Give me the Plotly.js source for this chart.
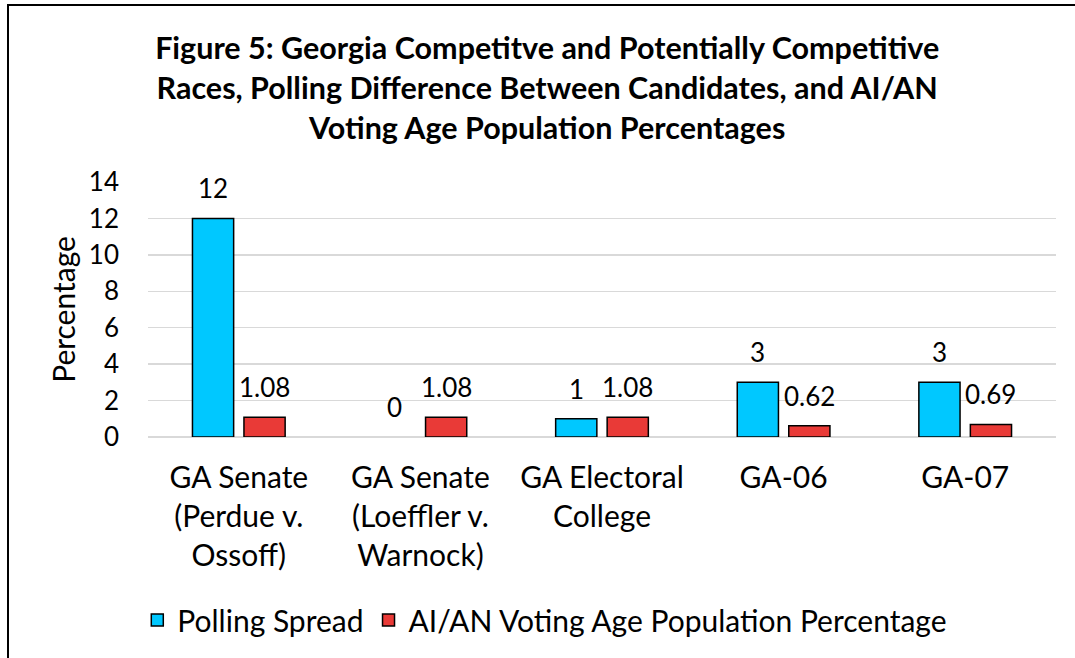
<!DOCTYPE html>
<html>
<head>
<meta charset="utf-8">
<script src="https://cdn.plot.ly/plotly-3.0.1.min.js"></script>
<style>
  html, body { margin: 0; padding: 0; background: #ffffff; overflow: hidden; }
  #frame { position: absolute; left: 7px; top: 4px; width: 1200px; height: 800px;
           border-left: 2px solid #000; border-top: 2px solid #000; box-sizing: border-box; }
  #chart { position: absolute; left: 0; top: 0; width: 1075px; height: 658px; }
</style>
</head>
<body>
<div id="frame"></div>
<div id="chart"></div>
<script>
// ---- data ----
const categories = [
  "GA Senate<br>(Perdue v.<br>Ossoff)",
  "GA Senate<br>(Loeffler v.<br>Warnock)",
  "GA Electoral<br>College",
  "GA-06",
  "GA-07"
];
const pollingSpread = [12, 0, 1, 3, 3];
const aianVAP = [1.08, 1.08, 1.08, 0.62, 0.69];
const seriesNames = ["Polling Spread", "AI/AN Voting Age Population Percentage"];
const yTicks = [0, 2, 4, 6, 8, 10, 12, 14];
const titleText = "Figure 5: Georgia Competitve and Potentially Competitive<br>Races, Polling Difference Between Candidates, and AI/AN<br>Voting Age Population Percentages";

const FONT = "Lato, 'Open Sans', sans-serif";
const blue = "#00C8FF";
const red = "#E93A37";

const xIdx = categories.map((c, i) => i);

const traces = [
  {
    type: "bar", name: seriesNames[0], x: xIdx, y: pollingSpread,
    marker: { color: blue, line: { color: "#000000", width: pollingSpread.map(v => v === 0 ? 0 : 1.5) } },
    hoverinfo: "skip"
  },
  {
    type: "bar", name: seriesNames[1], x: xIdx, y: aianVAP,
    marker: { color: red, line: { color: "#000000", width: aianVAP.map(v => v === 0 ? 0 : 1.5) } },
    hoverinfo: "skip"
  }
];

// data labels
const annotations = [];
[pollingSpread, aianVAP].forEach((vals, s) => {
  vals.forEach((v, i) => {
    annotations.push({
      x: i, y: v, xref: "x", yref: "y",
      text: String(v), showarrow: false,
      xshift: s === 0 ? -25.75 : 25.75, yshift: 12,
      yanchor: "bottom", xanchor: "center",
      font: { family: FONT, size: 26, color: "#000000" }
    });
  });
});

const layout = {
  width: 1075, height: 658,
  paper_bgcolor: "rgba(0,0,0,0)", plot_bgcolor: "rgba(0,0,0,0)",
  margin: { l: 148, r: 19, t: 182, b: 221, pad: 0 },
  barmode: "group", bargap: 0.433, bargroupgap: 0.2,
  title: {
    text: titleText, x: 0.509, xanchor: "center", y: 0.91, yanchor: "top",
    font: { family: FONT, size: 30.5, color: "#000000", weight: "bold" }
  },
  xaxis: {
    type: "linear", range: [-0.5, 4.5],
    tickmode: "array", tickvals: xIdx, ticktext: categories,
    showgrid: false, zeroline: false, showline: false, ticks: "",
    tickfont: { family: FONT, size: 30, color: "#000000" },
    ticklabelstandoff: 20, fixedrange: true
  },
  yaxis: {
    range: [0, 14], tickmode: "array", tickvals: yTicks,
    showgrid: true, gridcolor: "#D9D9D9", gridwidth: 1.5,
    zeroline: true, zerolinecolor: "#D9D9D9", zerolinewidth: 1.5,
    showline: false, ticks: "",
    tickfont: { family: FONT, size: 26, color: "#000000" },
    ticklabelstandoff: 28,
    title: { text: "Percentage", font: { family: FONT, size: 30, color: "#000000" }, standoff: 4 },
    fixedrange: true
  },
  showlegend: true,
  legend: {
    orientation: "h", x: 0.437, xanchor: "center", y: -0.718, yanchor: "middle",
    font: { family: FONT, size: 30, color: "#000000" },
    bgcolor: "rgba(0,0,0,0)", traceorder: "normal", itemclick: false, itemdoubleclick: false
  },
  annotations: annotations
};

Plotly.newPlot("chart", traces, layout, { displayModeBar: false, staticPlot: true });
</script>
</body>
</html>
